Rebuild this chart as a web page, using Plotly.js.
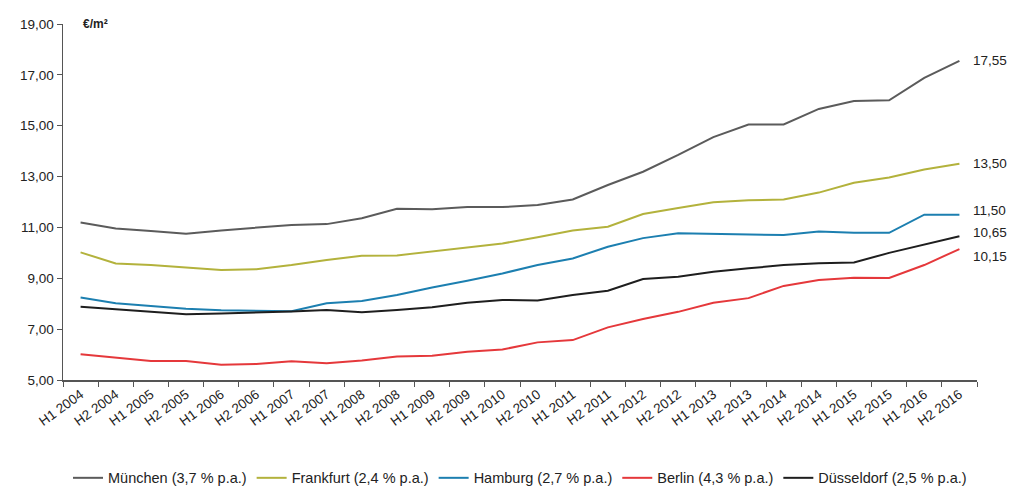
<!DOCTYPE html>
<html>
<head>
<meta charset="utf-8">
<script src="https://cdn.plot.ly/plotly-3.0.1.min.js"></script>
<style>
  html, body { margin: 0; padding: 0; background: #fff; }
  #chart { width: 1010px; height: 490px; }
</style>
</head>
<body>
<div id="chart"></div>
<script>
// Half-year periods
const periods = [
  "H1 2004", "H2 2004", "H1 2005", "H2 2005", "H1 2006", "H2 2006",
  "H1 2007", "H2 2007", "H1 2008", "H2 2008", "H1 2009", "H2 2009",
  "H1 2010", "H2 2010", "H1 2011", "H2 2011", "H1 2012", "H2 2012",
  "H1 2013", "H2 2013", "H1 2014", "H2 2014", "H1 2015", "H2 2015",
  "H1 2016", "H2 2016"
];

// Average rents in €/m² per city
const muenchen = [11.19, 10.96, 10.86, 10.75, 10.88, 11.00, 11.10, 11.13, 11.36, 11.73,
                  11.71, 11.80, 11.80, 11.88, 12.10, 12.67, 13.19, 13.85, 14.55, 15.05,
                  15.05, 15.66, 15.97, 16.00, 16.88, 17.55];
const frankfurt = [10.02, 9.58, 9.52, 9.42, 9.33, 9.36, 9.52, 9.72, 9.89, 9.90,
                   10.05, 10.20, 10.37, 10.61, 10.88, 11.03, 11.53, 11.76, 11.99, 12.07,
                   12.10, 12.37, 12.76, 12.96, 13.28, 13.50];
const hamburg = [8.24, 8.02, 7.91, 7.80, 7.74, 7.73, 7.70, 8.02, 8.11, 8.34,
                 8.64, 8.90, 9.19, 9.52, 9.78, 10.24, 10.58, 10.77, 10.75, 10.74,
                 10.70, 10.84, 10.79, 10.79, 11.50, 11.50];
const berlin = [6.01, 5.89, 5.75, 5.75, 5.60, 5.63, 5.74, 5.66, 5.77, 5.92,
                5.95, 6.11, 6.20, 6.48, 6.57, 7.07, 7.40, 7.68, 8.04, 8.22,
                8.70, 8.93, 9.02, 9.01, 9.52, 10.15];
const duesseldorf = [7.88, 7.78, 7.69, 7.59, 7.62, 7.65, 7.69, 7.75, 7.66, 7.75,
                     7.86, 8.04, 8.15, 8.13, 8.34, 8.51, 8.97, 9.06, 9.26, 9.39,
                     9.52, 9.59, 9.62, 10.00, 10.34, 10.65];

const legendNames = [
  "München (3,7 % p.a.)", "Frankfurt (2,4 % p.a.)", "Hamburg (2,7 % p.a.)",
  "Berlin (4,3 % p.a.)", "Düsseldorf (2,5 % p.a.)"
];
const seriesList = [muenchen, frankfurt, hamburg, berlin, duesseldorf];
const colors = ["#5b5b5b", "#b3b23c", "#1c7fb0", "#e5383b", "#1e1e1e"];
// small vertical nudges (px, up is positive) so the end labels don't collide
const labelShift = [0, 0, 4, -7, 4];

const FONT = "Arial, 'Liberation Sans', sans-serif";

const traces = seriesList.map((ys, i) => ({
  type: "scatter",
  mode: "lines",
  name: legendNames[i],
  x: periods,
  y: ys,
  line: { color: colors[i], width: 2 },
  hoverinfo: "x+y+name"
}));

const fmt = v => v.toFixed(2).replace(".", ",");

const annotations = seriesList.map((ys, i) => ({
  x: periods[periods.length - 1],
  y: ys[ys.length - 1],
  xref: "x", yref: "y",
  text: fmt(ys[ys.length - 1]),
  showarrow: false,
  xanchor: "left", yanchor: "middle",
  xshift: 12, yshift: labelShift[i],
  font: { family: FONT, size: 13.5, color: "#222" }
}));

annotations.push({
  x: 0.02, y: 19, xref: "paper", yref: "y",
  text: "<b>€/m²</b>",
  showarrow: false, xanchor: "left", yanchor: "middle",
  font: { family: FONT, size: 12, color: "#222" }
});

const layout = {
  width: 1010, height: 490,
  margin: { l: 63, r: 33, t: 24, b: 110, autoexpand: false },
  paper_bgcolor: "#fff", plot_bgcolor: "#fff",
  separators: ",.",
  showlegend: true,
  legend: {
    orientation: "h",
    x: 0.5, xanchor: "center",
    y: -0.275, yanchor: "middle",
    font: { family: FONT, size: 14.5, color: "#222" },
    itemwidth: 30,
    tracegroupgap: 0
  },
  xaxis: {
    type: "category",
    range: [-0.5, periods.length - 0.5],
    showgrid: false, zeroline: false,
    showline: true, linecolor: "#555", linewidth: 1.5,
    ticks: "outside", ticklen: 5, tickcolor: "#555", tickson: "boundaries",
    tickangle: -36,
    tickfont: { family: FONT, size: 13.5, color: "#222" },
    automargin: false
  },
  yaxis: {
    range: [5, 19], dtick: 2, tick0: 5,
    tickformat: ".2f",
    showgrid: false, zeroline: false,
    showline: true, linecolor: "#555", linewidth: 1.5,
    ticks: "outside", ticklen: 5, tickcolor: "#555",
    tickfont: { family: FONT, size: 13.5, color: "#222" },
    automargin: false
  },
  annotations: annotations
};

Plotly.newPlot("chart", traces, layout, { displayModeBar: false, staticPlot: true });
</script>
</body>
</html>
